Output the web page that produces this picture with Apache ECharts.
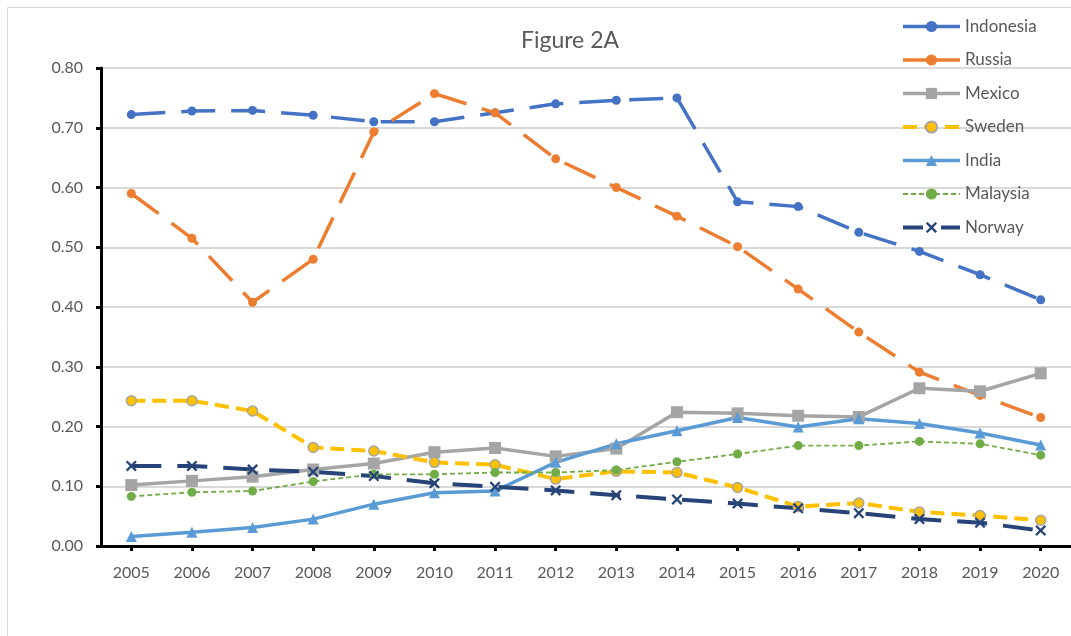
<!DOCTYPE html>
<html><head><meta charset="utf-8">
<script src="https://cdn.jsdelivr.net/npm/echarts@6/dist/echarts.min.js"></script>
<style>html,body{margin:0;padding:0;background:#fff}#c{width:1071px;height:636px}</style>
</head><body><div id="c"></div>
<script>
var years = ['2005','2006','2007','2008','2009','2010','2011','2012','2013','2014','2015','2016','2017','2018','2019','2020'];
var indonesia = [0.722,0.728,0.729,0.721,0.710,0.710,0.725,0.740,0.746,0.750,0.576,0.568,0.525,0.493,0.454,0.412];
var russia    = [0.590,0.515,0.408,0.480,0.693,0.757,0.725,0.648,0.600,0.552,0.501,0.430,0.358,0.291,0.252,0.215];
var mexico    = [0.102,0.109,0.116,0.128,0.138,0.157,0.164,0.150,0.163,0.224,0.222,0.218,0.216,0.264,0.259,0.289];
var sweden    = [0.243,0.243,0.226,0.165,0.159,0.140,0.136,0.112,0.125,0.123,0.098,0.066,0.072,0.057,0.051,0.043];
var india     = [0.016,0.023,0.031,0.045,0.070,0.089,0.092,0.140,0.171,0.193,0.215,0.199,0.213,0.205,0.189,0.169];
var malaysia  = [0.083,0.090,0.092,0.108,0.120,0.120,0.123,0.123,0.127,0.141,0.154,0.168,0.168,0.175,0.171,0.152];
var norway    = [0.134,0.134,0.128,0.124,0.117,0.105,0.099,0.093,0.085,0.078,0.071,0.063,0.055,0.045,0.039,0.026];
var yTicks = ['0.00','0.10','0.20','0.30','0.40','0.50','0.60','0.70','0.80'];

var FONT = 'Lato, "Open Sans", sans-serif';
var xPath = 'path://M0,1.5L1.5,0L5,3.5L8.5,0L10,1.5L6.5,5L10,8.5L8.5,10L5,6.5L1.5,10L0,8.5L3.5,5Z';

function mk(name, data, color, width, dash, symbol, symSize, extraItem) {
  return {
    name: name, type: 'line', data: data,
    symbol: symbol, symbolSize: symSize, showSymbol: true,
    lineStyle: { color: color, width: width, type: dash },
    itemStyle: Object.assign({ color: color }, extraItem || {}),
    emphasis: { disabled: true },
    animation: false
  };
}

var chart = echarts.init(document.getElementById('c'), null, { renderer: 'canvas' });
chart.setOption({
  backgroundColor: '#fff',
  animation: false,
  title: {
    text: 'Figure 2A', left: 565, top: 24, textAlign: 'center',
    textStyle: { fontFamily: FONT, fontSize: 23, fontWeight: 'normal', color: '#595959' }
  },
  graphic: [{
    type: 'rect', shape: { x: 7.5, y: 7.5, width: 1100, height: 700 },
    style: { fill: 'none', stroke: '#d9d9d9', lineWidth: 1 }, z: -10, silent: true
  }],
  legend: {
    orient: 'vertical', left: 896, top: 13,
    itemWidth: 57, itemHeight: 14, itemGap: 16.5,
    textStyle: { fontFamily: FONT, fontSize: 17, color: '#595959' },
    data: [
      { name: 'Indonesia', lineStyle: { width: 3.5, type: 'solid' } },
      { name: 'Russia', lineStyle: { width: 3.5, type: 'solid' } },
      { name: 'Mexico', lineStyle: { width: 3.5 } },
      { name: 'Sweden', lineStyle: { width: 4, type: [14, 7] } },
      { name: 'India', lineStyle: { width: 3.5 } },
      { name: 'Malaysia', lineStyle: { width: 1.8, type: [5, 3] } },
      { name: 'Norway', lineStyle: { width: 4, type: [20, 18] } }
    ]
  },
  grid: { left: 101, top: 68, width: 973, bottom: 90, containLabel: false },
  xAxis: {
    type: 'category', data: years, boundaryGap: true,
    axisLine: { lineStyle: { color: '#000', width: 3 } },
    axisTick: { show: true, alignWithLabel: true, length: 5, lineStyle: { color: '#000', width: 3 } },
    axisLabel: { fontFamily: FONT, fontSize: 16, color: '#595959', margin: 19 },
    splitLine: { show: false }
  },
  yAxis: {
    type: 'value', min: 0, max: 0.8, interval: 0.1,
    axisLine: { show: true, lineStyle: { color: '#000', width: 3 } },
    axisTick: { show: true, length: 5, lineStyle: { color: '#000', width: 3 } },
    axisLabel: { fontFamily: FONT, fontSize: 16, color: '#595959', margin: 18,
      formatter: function (v) { return yTicks[Math.round(v * 10)]; } },
    splitLine: { lineStyle: { color: '#d9d9d9', width: 2 } }
  },
  series: [
    mk('Indonesia', indonesia, '#4472C4', 3.5, [34, 16], 'circle', 9),
    mk('Russia', russia, '#ED7D31', 3.5, [34, 16], 'circle', 9),
    mk('Mexico', mexico, '#A5A5A5', 3.5, 'solid', 'rect', 12),
    mk('Sweden', sweden, '#FFC000', 4, [14, 7], 'circle', 10, { borderColor: '#A5A5A5', borderWidth: 1.5 }),
    mk('India', india, '#5B9BD5', 3.5, 'solid', 'triangle', 11),
    mk('Malaysia', malaysia, '#70AD47', 1.8, [5, 3], 'circle', 9),
    mk('Norway', norway, '#264478', 4, [30, 16], xPath, 11)
  ]
});
</script></body></html>
